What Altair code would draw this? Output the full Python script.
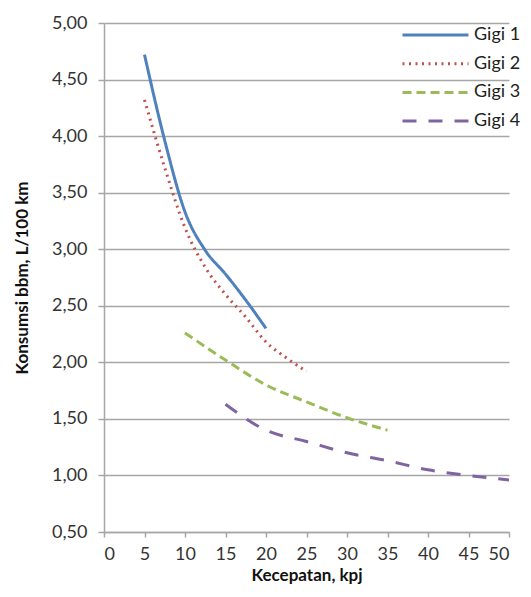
import altair as alt
import pandas as pd

series_names = ["Gigi 1", "Gigi 2", "Gigi 3", "Gigi 4"]

gigi1_x = [5, 7.5, 10, 12.5, 15, 17.5, 20]
gigi1_y = [4.72, 3.96, 3.33, 2.99, 2.78, 2.55, 2.30]

gigi2_x = [5, 7.5, 10, 12.5, 15, 17.5, 20, 22.5, 25]
gigi2_y = [4.32, 3.72, 3.19, 2.84, 2.60, 2.40, 2.18, 2.04, 1.92]

gigi3_x = [10, 15, 20, 25, 30, 35]
gigi3_y = [2.26, 2.02, 1.80, 1.65, 1.51, 1.40]

gigi4_x = [15, 20, 25, 30, 35, 40, 45, 50]
gigi4_y = [1.63, 1.40, 1.30, 1.20, 1.13, 1.05, 1.00, 0.96]

x_ticks = [0, 5, 10, 15, 20, 25, 30, 35, 40, 45, 50]
y_ticks = [0.5, 1.0, 1.5, 2.0, 2.5, 3.0, 3.5, 4.0, 4.5, 5.0]

colors = ["#4f81bd", "#c0504d", "#9bbb59", "#8064a2"]
dashes = [[1, 0], [2, 4.5], [9, 5], [14, 12]]

rows = []
for name, xs, ys in zip(series_names,
                        [gigi1_x, gigi2_x, gigi3_x, gigi4_x],
                        [gigi1_y, gigi2_y, gigi3_y, gigi4_y]):
    for xv, yv in zip(xs, ys):
        rows.append({"series": name, "speed": xv, "fuel": yv})
df = pd.DataFrame(rows)

FONT = "Lato"

chart = alt.Chart(df).mark_line(interpolate="monotone", strokeWidth=3).encode(
    x=alt.X("speed:Q",
            scale=alt.Scale(domain=[0, 50], nice=False, zero=False),
            axis=alt.Axis(values=x_ticks, title="Kecepatan, kpj", grid=False,
                          tickSize=5, labelPadding=8, titlePadding=4)),
    y=alt.Y("fuel:Q",
            scale=alt.Scale(domain=[0.5, 5.0], nice=False, zero=False),
            axis=alt.Axis(values=y_ticks,
                          labelExpr="replace(format(datum.value, '.2f'), '.', ',')",
                          title="Konsumsi bbm, L/100 km",
                          grid=True, tickSize=6, labelPadding=11, titlePadding=20)),
    color=alt.Color("series:N",
                    scale=alt.Scale(domain=series_names, range=colors),
                    legend=alt.Legend(title=None, orient="none", legendX=297, legendY=1,
                                      symbolType="stroke", symbolSize=4356,
                                      symbolStrokeWidth=3, labelFontSize=18,
                                      labelFont=FONT, labelColor="#222222",
                                      clipHeight=22, rowPadding=6.7, padding=0,
                                      labelOffset=4)),
    strokeDash=alt.StrokeDash("series:N",
                              scale=alt.Scale(domain=series_names, range=dashes),
                              legend=None),
).properties(
    width=405, height=509,
    autosize=alt.AutoSizeParams(type="none"),
    padding={"left": 96, "top": 15, "right": 14, "bottom": 56},
).configure_axis(
    labelFont=FONT, labelFontSize=18, labelColor="#333333",
    titleFont=FONT, titleFontSize=17, titleFontWeight="bold", titleColor="#111111",
    domainColor="#a6a6a6", domainWidth=1.5, tickColor="#a6a6a6", tickWidth=1.5,
    gridColor="#a6a6a6", gridWidth=1.5,
).configure_view(stroke=None)

chart.save("out.html", embed_options={"renderer": "svg", "actions": False})
